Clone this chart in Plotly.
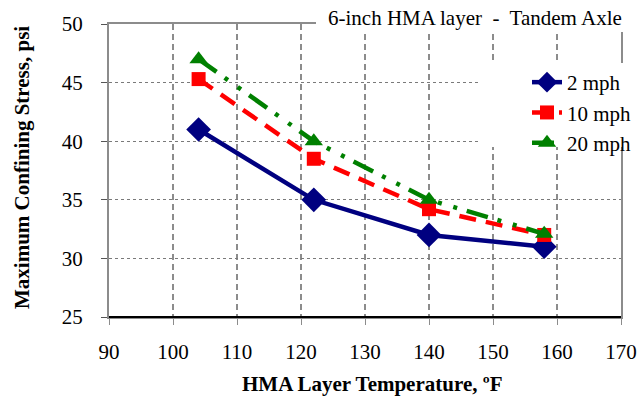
import plotly.graph_objects as go

temps = [104, 122, 140, 158]
mph2 = [41.0, 35.0, 32.0, 31.0]
mph10 = [45.3, 38.5, 34.2, 32.0]
mph20 = [47.0, 40.0, 35.0, 32.1]
series_names = ["2 mph", "10 mph", "20 mph"]
x_ticks = [90, 100, 110, 120, 130, 140, 150, 160, 170]
y_ticks = [25, 30, 35, 40, 45, 50]

W, H = 638, 399
L, R, T, B = 109, 621, 24, 317
pw, ph = R - L, B - T

def px(xp):
    return (xp - L) / pw

def py(yp):
    return 1 - (yp - T) / ph

FONT = "Liberation Serif"
TICK_SIZE = 21
TEXT_SIZE = 21

fig = go.Figure()
fig.add_trace(go.Scatter(
    x=temps, y=mph2, name=series_names[0], mode="lines+markers",
    line=dict(color="#000080", width=4.5),
    marker=dict(symbol="diamond", size=19, color="#000080"),
))
fig.add_trace(go.Scatter(
    x=temps, y=mph10, name=series_names[1], mode="lines+markers",
    line=dict(color="#FF0000", width=4.5, dash="17px,10px"),
    marker=dict(symbol="square", size=14, color="#FF0000"),
))
fig.add_trace(go.Scatter(
    x=temps, y=mph20, name=series_names[2], mode="lines+markers",
    line=dict(color="#008000", width=4.5, dash="22px,10px,4px,12px,4px,10px"),
    marker=dict(symbol="triangle-up", size=16, color="#008000"),
))

fig.update_layout(
    width=W, height=H,
    margin=dict(l=L, r=W - R, t=T, b=H - B, autoexpand=False),
    plot_bgcolor="white", paper_bgcolor="white",
    font=dict(family=FONT, size=TEXT_SIZE, color="black"),
    showlegend=True,
    legend=dict(
        x=px(527), y=py(62), xanchor="left", yanchor="top",
        bgcolor="rgba(0,0,0,0)", borderwidth=0,
        font=dict(family=FONT, size=TEXT_SIZE),
        tracegroupgap=0,
    ),
    xaxis=dict(
        range=[90, 170], tickvals=x_ticks, ticktext=[str(v) for v in x_ticks],
        showgrid=True, gridcolor="#8c8c8c", gridwidth=2, griddash="6px,4px",
        showline=True, linecolor="#8c8c8c", linewidth=2, mirror=True,
        ticks="outside", ticklen=6, tickcolor="#8c8c8c", tickwidth=1,
        zeroline=False, automargin=False, ticklabelstandoff=9,
        tickfont=dict(family=FONT, size=TICK_SIZE),
    ),
    yaxis=dict(
        range=[25, 50], tickvals=y_ticks, ticktext=[str(v) for v in y_ticks],
        showgrid=True, gridcolor="#7a7a7a", gridwidth=1, griddash="dot",
        showline=True, linecolor="#8c8c8c", linewidth=2, mirror=True,
        ticks="outside", ticklen=6, tickcolor="#555555", tickwidth=1,
        zeroline=False, automargin=False, ticklabelstandoff=14,
        tickfont=dict(family=FONT, size=TICK_SIZE),
    ),
)

# bottom axis line in black
fig.add_shape(type="line", xref="paper", yref="paper", x0=0, x1=1, y0=0, y1=0,
              line=dict(color="black", width=2), layer="above")
# white box behind legend
fig.add_shape(type="rect", xref="paper", yref="paper",
              x0=px(479), x1=px(640), y0=py(147), y1=py(63),
              fillcolor="white", line=dict(width=0), layer="above")
# white box behind title
fig.add_shape(type="rect", xref="paper", yref="paper",
              x0=px(316), x1=px(640), y0=py(32), y1=py(-2),
              fillcolor="white", line=dict(width=0), layer="above")

fig.add_annotation(
    text="6-inch HMA layer\u00a0 -\u00a0 Tandem Axle",
    xref="paper", yref="paper", x=px(475), y=py(18),
    xanchor="center", yanchor="middle", showarrow=False,
    font=dict(family=FONT, size=TEXT_SIZE, color="black"),
)
fig.add_annotation(
    text="<b>HMA Layer Temperature, ºF</b>",
    xref="paper", yref="paper", x=px(372), y=py(384),
    xanchor="center", yanchor="middle", showarrow=False,
    font=dict(family=FONT, size=TEXT_SIZE, color="black"),
)
fig.add_annotation(
    text="<b>Maximum Confining Stress, psi</b>",
    xref="paper", yref="paper", x=px(22), y=py(168), textangle=-90,
    xanchor="center", yanchor="middle", showarrow=False,
    font=dict(family=FONT, size=TEXT_SIZE, color="black"),
)

fig.write_html(
    "out.html",
    config={"displayModeBar": False},
    post_script="document.body.style.margin='0';document.body.style.padding='0';"
                "document.body.style.overflow='hidden';",
)
